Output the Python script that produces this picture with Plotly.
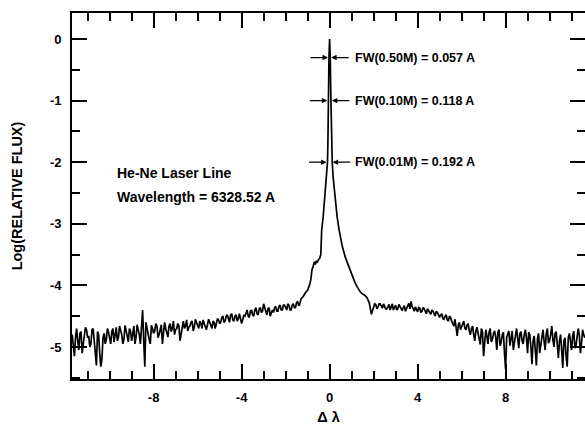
import plotly.graph_objects as go

# ---- data ----
# left wing (delta lambda, log relative flux)
x_left = [-11.7, -11.6, -11.5, -11.4, -11.3, -11.2, -11.1, -11.0, -10.9, -10.8,
          -10.7, -10.6, -10.5, -10.4, -10.3, -10.2, -10.1, -10.0, -9.9, -9.8,
          -9.7, -9.6, -9.5, -9.4, -9.3, -9.2, -9.1, -9.0, -8.9, -8.8,
          -8.7, -8.6, -8.5, -8.4, -8.3, -8.2, -8.1, -8.0, -7.9, -7.8,
          -7.7, -7.6, -7.5, -7.4, -7.3, -7.2, -7.1, -7.0, -6.9, -6.8,
          -6.7, -6.6, -6.5, -6.4, -6.3, -6.2, -6.1, -6.0, -5.9, -5.8,
          -5.7, -5.6, -5.5, -5.4, -5.3, -5.2, -5.1, -5.0, -4.9, -4.8,
          -4.7, -4.6, -4.5, -4.4, -4.3, -4.2, -4.1, -4.0, -3.9, -3.8,
          -3.7, -3.6, -3.5, -3.4, -3.3, -3.2, -3.1, -3.0, -2.9, -2.8,
          -2.7, -2.6, -2.5, -2.4, -2.3, -2.2, -2.1, -2.0, -1.9, -1.8,
          -1.7, -1.6, -1.5, -1.4, -1.3, -1.2, -1.1, -1.0]
y_left = [-4.80, -5.15, -4.70, -5.05, -4.75, -4.95, -4.68, -4.85, -5.00, -4.72,
          -4.90, -5.30, -4.80, -5.32, -4.85, -4.95, -4.70, -4.88, -4.75, -4.92,
          -4.68, -4.85, -4.72, -4.95, -4.65, -4.82, -4.70, -4.90, -4.66, -4.85,
          -4.70, -4.95, -4.40, -5.32, -4.72, -4.88, -4.65, -4.78, -4.62, -4.85,
          -4.68, -4.95, -4.60, -4.80, -4.66, -4.75, -4.58, -4.72, -4.62, -4.90,
          -4.64, -4.70, -4.56, -4.68, -4.60, -4.74, -4.55, -4.66, -4.58, -4.70,
          -4.62, -4.72, -4.55, -4.66, -4.58, -4.70, -4.54, -4.62, -4.52, -4.60,
          -4.50, -4.57, -4.48, -4.56, -4.50, -4.58, -4.46, -4.62, -4.48, -4.44,
          -4.50, -4.42, -4.48, -4.40, -4.46, -4.38, -4.44, -4.30, -4.45, -4.38,
          -4.50, -4.40, -4.36, -4.42, -4.34, -4.40, -4.32, -4.38, -4.30, -4.40,
          -4.32, -4.36, -4.28, -4.33, -4.22, -4.18, -4.12, -4.08]

# extra samples between the above on the left wing
x_left_mid = [-11.65, -11.55, -11.45, -11.35, -11.25, -11.15, -11.05, -10.95, -10.85, -10.75,
              -10.65, -10.55, -10.45, -10.35, -10.25, -10.15, -10.05, -9.95, -9.85, -9.75,
              -9.65, -9.55, -9.45, -9.35, -9.25, -9.15, -9.05, -8.95, -8.85, -8.75,
              -8.65, -8.55, -8.45, -8.35, -8.25, -8.15, -8.05, -7.95, -7.85, -7.75,
              -7.65, -7.55, -7.45, -7.35, -7.25, -7.15, -7.05, -6.95, -6.85, -6.75,
              -6.65, -6.55, -6.45, -6.35, -6.25, -6.15, -6.05, -5.95, -5.85, -5.75,
              -5.65, -5.55, -5.45, -5.35, -5.25, -5.15, -5.05]
y_left_mid = [-4.95, -4.85, -4.90, -4.78, -5.10, -4.80, -4.72, -4.82, -4.95, -4.70,
              -5.05, -4.75, -5.10, -5.20, -4.78, -4.88, -4.76, -4.95, -4.70, -4.82,
              -4.90, -4.66, -4.80, -4.88, -4.72, -4.92, -4.74, -4.80, -4.95, -4.64,
              -4.80, -4.60, -4.90, -4.60, -4.78, -4.95, -4.70, -4.74, -4.66, -4.80,
              -4.64, -4.78, -4.70, -4.84, -4.62, -4.70, -4.80, -4.70, -4.66, -4.78,
              -4.58, -4.66, -4.74, -4.66, -4.58, -4.68, -4.60, -4.70, -4.62, -4.56,
              -4.66, -4.64, -4.60, -4.70, -4.60, -4.64, -4.56]

x_left_mid2 = [-4.95, -4.85, -4.75, -4.65, -4.55, -4.45, -4.35, -4.25, -4.15, -4.05,
               -3.95, -3.85, -3.75, -3.65, -3.55, -3.45, -3.35, -3.25, -3.15, -3.05,
               -2.95, -2.85, -2.75, -2.65, -2.55, -2.45, -2.35, -2.25, -2.15, -2.05,
               -1.95, -1.85, -1.75, -1.65, -1.55, -1.45, -1.35]
y_left_mid2 = [-4.60, -4.50, -4.58, -4.48, -4.60, -4.46, -4.58, -4.48, -4.54, -4.52,
               -4.56, -4.50, -4.40, -4.52, -4.40, -4.50, -4.36, -4.48, -4.36, -4.42,
               -4.36, -4.48, -4.36, -4.46, -4.44, -4.34, -4.42, -4.32, -4.40, -4.32,
               -4.40, -4.32, -4.40, -4.30, -4.36, -4.26, -4.30]

# line core
x_core = [-0.9, -0.85, -0.8, -0.75, -0.7, -0.65, -0.6, -0.55, -0.5, -0.45,
          -0.4, -0.36, -0.29, -0.21, -0.14, -0.096, -0.075, -0.059, -0.0285, 0.0,
          0.0285, 0.06, 0.09, 0.12, 0.16, 0.24, 0.34, 0.43, 0.58, 0.72,
          0.85, 0.95, 1.05, 1.15, 1.25]
y_core = [-3.98, -3.90, -3.74, -3.70, -3.62, -3.66, -3.60, -3.62, -3.58, -3.56,
          -3.50, -3.10, -2.88, -2.56, -2.24, -2.00, -1.64, -1.00, -0.301, 0.0,
          -0.301, -1.00, -1.64, -2.00, -2.24, -2.56, -2.88, -3.10, -3.37, -3.55,
          -3.68, -3.75, -3.88, -3.95, -4.02]

# right wing
x_right = [1.38, 1.5, 1.6, 1.7, 1.8, 1.9, 2.0, 2.1, 2.2, 2.3,
           2.4, 2.5, 2.6, 2.7, 2.8, 2.9, 3.0, 3.1, 3.2, 3.3,
           3.4, 3.5, 3.6, 3.7, 3.8, 3.9, 4.0, 4.1, 4.2, 4.3,
           4.4, 4.5, 4.6, 4.7, 4.8, 4.9, 5.0, 5.1, 5.2, 5.3,
           5.4, 5.5, 5.6, 5.7, 5.8, 5.9, 6.0, 6.1, 6.2, 6.3,
           6.4, 6.5, 6.6, 6.7, 6.8, 6.9, 7.0, 7.1, 7.2, 7.3,
           7.4, 7.5, 7.6, 7.7, 7.8, 7.9, 8.0, 8.1, 8.2, 8.3,
           8.4, 8.5, 8.6, 8.7, 8.8, 8.9, 9.0, 9.1, 9.2, 9.3,
           9.4, 9.5, 9.6, 9.7, 9.8, 9.9, 10.0, 10.1, 10.2, 10.3,
           10.4, 10.5, 10.6, 10.7, 10.8, 10.9, 11.0, 11.1, 11.2, 11.3,
           11.4, 11.5, 11.6]
y_right = [-4.10, -4.14, -4.16, -4.20, -4.28, -4.47, -4.36, -4.31, -4.35, -4.30,
           -4.37, -4.33, -4.38, -4.31, -4.36, -4.40, -4.32, -4.38, -4.34, -4.41,
           -4.33, -4.37, -4.29, -4.26, -4.38, -4.35, -4.43, -4.37, -4.42, -4.38,
           -4.46, -4.41, -4.47, -4.42, -4.50, -4.44, -4.52, -4.46, -4.55, -4.48,
           -4.58, -4.52, -4.62, -4.55, -4.82, -4.60, -4.68, -4.58, -4.72, -4.62,
           -4.80, -4.66, -4.90, -4.68, -4.85, -4.70, -5.15, -4.72, -4.95, -4.70,
           -4.88, -4.74, -5.05, -4.72, -4.92, -4.76, -5.36, -4.78, -4.98, -4.74,
           -4.92, -4.70, -5.02, -4.75, -4.95, -4.72, -5.10, -4.80, -5.28, -4.82,
           -5.30, -4.78, -4.96, -4.72, -5.05, -4.70, -4.90, -4.66, -5.00, -4.75,
           -5.18, -4.80, -5.34, -4.85, -5.32, -4.78, -5.05, -4.74, -4.98, -4.70,
           -5.10, -4.72, -4.85]

# extra samples between the above on the right wing
x_right_mid2 = [2.05, 2.15, 2.25, 2.35, 2.45, 2.55, 2.65, 2.75, 2.85, 2.95,
                3.05, 3.15, 3.25, 3.35, 3.45, 3.55, 3.65, 3.75, 3.85, 3.95,
                4.05, 4.15, 4.25, 4.35, 4.45, 4.55, 4.65, 4.75, 4.85, 4.95]
y_right_mid2 = [-4.30, -4.38, -4.30, -4.34, -4.30, -4.38, -4.34, -4.40, -4.30, -4.36,
                -4.40, -4.31, -4.38, -4.36, -4.42, -4.34, -4.38, -4.34, -4.42, -4.38,
                -4.36, -4.44, -4.36, -4.42, -4.38, -4.46, -4.40, -4.46, -4.42, -4.48]

x_right_mid = [5.05, 5.15, 5.25, 5.35, 5.45, 5.55, 5.65, 5.75, 5.85, 5.95,
               6.05, 6.15, 6.25, 6.35, 6.45, 6.55, 6.65, 6.75, 6.85, 6.95,
               7.05, 7.15, 7.25, 7.35, 7.45, 7.55, 7.65, 7.75, 7.85, 7.95,
               8.05, 8.15, 8.25, 8.35, 8.45, 8.55, 8.65, 8.75, 8.85, 8.95,
               9.05, 9.15, 9.25, 9.35, 9.45, 9.55, 9.65, 9.75, 9.85, 9.95,
               10.05, 10.15, 10.25, 10.35, 10.45, 10.55, 10.65, 10.75, 10.85, 10.95,
               11.05, 11.15, 11.25, 11.35, 11.45, 11.55]
y_right_mid = [-4.48, -4.54, -4.50, -4.56, -4.50, -4.58, -4.66, -4.70, -4.64, -4.72,
               -4.62, -4.70, -4.64, -4.74, -4.70, -4.80, -4.74, -4.78, -4.96, -4.76,
               -4.88, -4.82, -4.76, -4.92, -4.78, -4.84, -4.76, -4.98, -4.80, -5.10,
               -4.84, -4.74, -4.88, -5.05, -4.76, -4.86, -4.78, -4.90, -4.80, -4.86,
               -4.76, -5.00, -4.90, -5.05, -4.86, -5.10, -4.80, -4.90, -4.78, -4.94,
               -4.80, -4.88, -4.78, -4.96, -4.90, -5.05, -4.90, -5.15, -4.85, -4.90,
               -4.82, -5.02, -4.84, -4.80, -4.95, -4.80]

# full-width annotations: level (log M) , full width (A), label
fw_levels = [-0.301, -1.0, -2.0]
fw_widths = [0.057, 0.118, 0.192]
fw_labels = ["FW(0.50M) = 0.057 A", "FW(0.10M) = 0.118 A", "FW(0.01M) = 0.192 A"]

x_ticks = [-8, -4, 0, 4, 8]
x_ticktext = ["-8", "-4", "0", "4", "8"]
y_ticks = [0, -1, -2, -3, -4, -5]
y_ticktext = ["0", "-1", "-2", "-3", "-4", "-5"]

pairs = sorted(zip(x_left + x_left_mid + x_left_mid2 + x_core + x_right
                   + x_right_mid2 + x_right_mid,
                   y_left + y_left_mid + y_left_mid2 + y_core + y_right
                   + y_right_mid2 + y_right_mid))
x_all = [p[0] for p in pairs]
y_all = [p[1] for p in pairs]

FONT = "Liberation Sans, Arial, Helvetica, sans-serif"

fig = go.Figure()
fig.add_trace(go.Scatter(x=x_all, y=y_all, mode="lines",
                         line=dict(color="black", width=1.7),
                         hoverinfo="skip", showlegend=False))
# empty trace that activates the right-hand (tick only) axis
fig.add_trace(go.Scatter(x=[None], y=[None], yaxis="y2", mode="lines",
                         hoverinfo="skip", showlegend=False))

annotations = []
for lvl, w, lab in zip(fw_levels, fw_widths, fw_labels):
    annotations.append(dict(x=-w / 2, y=lvl, xref="x", yref="y", text="",
                            showarrow=True, ax=-20, ay=0, arrowhead=2,
                            arrowsize=0.9, arrowwidth=1.2, arrowcolor="black",
                            standoff=1))
    annotations.append(dict(x=w / 2, y=lvl, xref="x", yref="y", text="",
                            showarrow=True, ax=20, ay=0, arrowhead=2,
                            arrowsize=0.9, arrowwidth=1.2, arrowcolor="black",
                            standoff=1))
    annotations.append(dict(x=1.08, y=lvl, xref="x", yref="y", text=lab,
                            showarrow=False, xanchor="left", yanchor="middle",
                            font=dict(family=FONT, size=12.5, color="black",
                                      weight="bold")))

annotations.append(dict(x=-9.76, y=-2.18, xref="x", yref="y", text="He-Ne Laser Line",
                        showarrow=False, xanchor="left", yanchor="middle",
                        font=dict(family=FONT, size=14, color="black", weight="bold")))
annotations.append(dict(x=-9.76, y=-2.57, xref="x", yref="y",
                        text="Wavelength = 6328.52 A",
                        showarrow=False, xanchor="left", yanchor="middle",
                        font=dict(family=FONT, size=14, color="black", weight="bold")))

tickfont = dict(family=FONT, size=13, color="black", weight="bold")
minor_y = dict(ticks="inside", ticklen=8, tickwidth=1.6, tickcolor="black",
               dtick=0.5, showgrid=False)

fig.update_layout(
    width=585, height=425,
    margin=dict(l=72, r=0, t=13, b=46),
    paper_bgcolor="white", plot_bgcolor="white",
    annotations=annotations,
    xaxis=dict(range=[-11.71, 11.61], showgrid=False, zeroline=False,
               showline=True, linecolor="black", linewidth=1.6, mirror="ticks",
               ticks="inside", ticklen=15, tickwidth=1.6, tickcolor="black",
               tickmode="array", tickvals=x_ticks, ticktext=x_ticktext,
               tickfont=tickfont, ticklabelstandoff=6,
               minor=dict(ticks="inside", ticklen=8, tickwidth=1.6,
                          tickcolor="black", dtick=1, showgrid=False),
               title=dict(text="Δ λ", standoff=9,
                          font=dict(family=FONT, size=14.5, color="black",
                                    weight="bold"))),
    yaxis=dict(range=[-5.52, 0.422], showgrid=False, zeroline=False,
               showline=True, linecolor="black", linewidth=1.6, mirror=False,
               ticks="inside", ticklen=15, tickwidth=1.6, tickcolor="black",
               tickmode="array", tickvals=y_ticks, ticktext=y_ticktext,
               tickfont=tickfont, ticklabelstandoff=6,
               minor=minor_y,
               title=dict(text="Log(RELATIVE FLUX)", standoff=24,
                          font=dict(family=FONT, size=14.5, color="black",
                                    weight="bold"))),
    yaxis2=dict(range=[-5.52, 0.422], overlaying="y", side="right",
                showgrid=False, zeroline=False, showline=False,
                ticks="inside", ticklen=15, tickwidth=1.6, tickcolor="black",
                tickmode="array", tickvals=y_ticks, showticklabels=False,
                minor=minor_y),
)

fig.write_html("out.html")
